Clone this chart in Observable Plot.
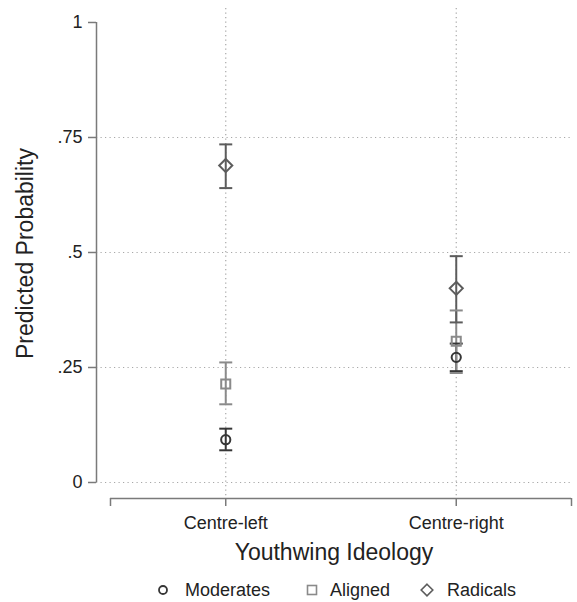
<!DOCTYPE html>
<html>
<head>
<meta charset="utf-8">
<script src="https://cdn.jsdelivr.net/npm/d3@7"></script>
<script src="https://cdn.jsdelivr.net/npm/@observablehq/plot@0.6"></script>
<style>
  body { margin: 0; background: #fff; font-family: "Liberation Sans", Arial, sans-serif; }
  #legend { position: relative; width: 577px; height: 30px; font-size: 18px; color: #222; }
  .mk { position: absolute; top: 11px; }
  .lb { position: absolute; top: 7px; line-height: 22px; }
</style>
</head>
<body>
<div id="chart"></div>
<div id="legend"></div>
<script>
// ---- data ----
const categories = ["Centre-left", "Centre-right"];
const series = ["Moderates", "Aligned", "Radicals"];
const moderatesEst = [0.093, 0.272];
const moderatesLo  = [0.070, 0.242];
const moderatesHi  = [0.117, 0.302];
const alignedEst   = [0.214, 0.307];
const alignedLo    = [0.170, 0.238];
const alignedHi    = [0.261, 0.374];
const radicalsEst  = [0.689, 0.422];
const radicalsLo   = [0.640, 0.348];
const radicalsHi   = [0.735, 0.492];
const yTicks = [0, 0.25, 0.5, 0.75, 1];
const yTickLabels = ["0", ".25", ".5", ".75", "1"];
const yGrid = [0, 0.25, 0.5, 0.75];
const colors = ["#363636", "#8a8a8a", "#5c5c5c"];

// ---- table ----
const est = [moderatesEst, alignedEst, radicalsEst];
const lo = [moderatesLo, alignedLo, radicalsLo];
const hi = [moderatesHi, alignedHi, radicalsHi];
const rows = [];
series.forEach((s, si) => categories.forEach((c, ci) => {
  rows.push({series: s, pos: ci + 1, est: est[si][ci], lo: lo[si][ci], hi: hi[si][ci]});
}));
const xTicks = [0.5, 1, 2, 2.5];
const xLabel = new Map(categories.map((c, i) => [i + 1, c]));
const yLabel = new Map(yTicks.map((v, i) => [v, yTickLabels[i]]));
const xDomain = [0.4393, 2.5];
const yDomain = [-0.0348, 1.0304];

const cap = { draw(ctx) { ctx.moveTo(-6.5, 0); ctx.lineTo(6.5, 0); } };
const font = "Liberation Sans, Arial, sans-serif";

const chart = Plot.plot({
  width: 577,
  height: 572,
  marginTop: 8,
  marginBottom: 74,
  marginLeft: 96,
  marginRight: 6,
  style: { fontFamily: font, background: "#fff" },
  x: { domain: xDomain },
  y: { domain: yDomain },
  color: { domain: series, range: colors },
  marks: [
    Plot.ruleY(yGrid, { y: d => d, stroke: "#a8a8a8", strokeWidth: 1.2, strokeDasharray: "1.2,3.3" }),
    Plot.ruleX([1, 2], { x: d => d, stroke: "#a8a8a8", strokeWidth: 1.2, strokeDasharray: "1.2,3.3" }),
    Plot.ruleX([xDomain[0]], { x: d => d, y1: 0, y2: 1, stroke: "#7a7a7a", strokeWidth: 1.5 }),
    Plot.ruleY([yDomain[0]], { y: d => d, x1: 0.5, x2: 2.5, stroke: "#7a7a7a", strokeWidth: 1.5 }),
    Plot.axisY(yTicks, { tickSize: 8, tickPadding: 6, tickFormat: d => yLabel.get(d), fontSize: 18, stroke: "#7a7a7a", strokeWidth: 1.5, fill: "#222", label: null }),
    Plot.axisX(xTicks, { tickSize: 8, tickPadding: 10, tickFormat: d => xLabel.get(d) ?? "", fontSize: 18, stroke: "#7a7a7a", strokeWidth: 1.5, fill: "#222", label: null }),
    Plot.text(["Predicted Probability"], { frameAnchor: "left", textAnchor: "middle", rotate: -90, dx: -71, fontSize: 23, fill: "#222" }),
    Plot.text(["Youthwing Ideology"], { frameAnchor: "bottom", dy: 61, fontSize: 23, fill: "#222" }),
    Plot.ruleX(rows, { x: "pos", y1: "lo", y2: "hi", stroke: "series", strokeWidth: 2 }),
    Plot.dot(rows, { x: "pos", y: "lo", symbol: cap, stroke: "series", strokeWidth: 2 }),
    Plot.dot(rows, { x: "pos", y: "hi", symbol: cap, stroke: "series", strokeWidth: 2 }),
    Plot.dot(rows.filter(d => d.series === "Moderates"), { x: "pos", y: "est", symbol: "circle", r: 4.6, stroke: "series", strokeWidth: 2, fill: "none" }),
    Plot.dot(rows.filter(d => d.series === "Aligned"), { x: "pos", y: "est", symbol: "square", r: 5.1, stroke: "series", strokeWidth: 2, fill: "none" }),
    Plot.dot(rows.filter(d => d.series === "Radicals"), { x: "pos", y: "est", symbol: "diamond2", r: 5.9, stroke: "series", strokeWidth: 2, fill: "none" })
  ]
});
document.getElementById("chart").appendChild(chart);

// ---- legend ----
const shapes = [
  '<circle cx="7" cy="7" r="4" fill="none" stroke="' + colors[0] + '" stroke-width="1.8"/>',
  '<rect x="2.5" y="2.5" width="9" height="9" fill="none" stroke="' + colors[1] + '" stroke-width="1.6"/>',
  '<path d="M7 1.2L12.8 7L7 12.8L1.2 7Z" fill="none" stroke="' + colors[2] + '" stroke-width="1.6"/>'
];
const markerCenters = [163, 312, 427];
const labelLefts = [185, 330, 447];
const legend = document.getElementById("legend");
series.forEach((s, i) => {
  const m = document.createElement("div");
  m.className = "mk";
  m.style.left = (markerCenters[i] - 7) + "px";
  m.innerHTML = '<svg width="14" height="14" style="display:block">' + shapes[i] + '</svg>';
  const t = document.createElement("div");
  t.className = "lb";
  t.style.left = labelLefts[i] + "px";
  t.textContent = s;
  legend.appendChild(m);
  legend.appendChild(t);
});
</script>
</body>
</html>
